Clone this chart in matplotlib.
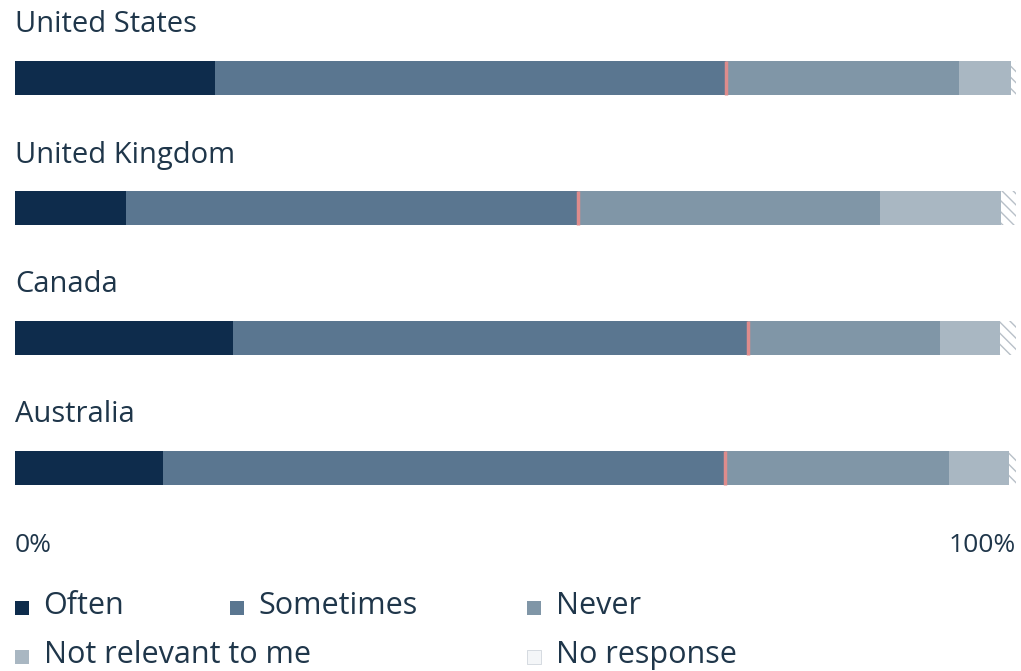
import matplotlib.pyplot as plt
import numpy as np

plt.rcParams['font.family'] = ['Open Sans', 'DejaVu Sans']

# Datos (porcentajes)
countries = ["United States", "United Kingdom", "Canada", "Australia"]
categories = ["Often", "Sometimes", "Never", "Not relevant to me", "No response"]
often = [20.0, 11.1, 21.8, 14.8]
sometimes = [51.0, 45.1, 51.4, 56.1]
never = [23.3, 30.2, 19.2, 22.4]
not_relevant = [5.2, 12.1, 6.0, 6.0]
no_response = [0.5, 1.5, 1.6, 0.7]

colors = ["#0e2c4c", "#5a7690", "#8096a7", "#a9b7c2", "#ffffff"]
text_color = "#1f364a"
marker_color = "#de8c8c"

W, H = 1021, 671
fig = plt.figure(figsize=(W / 100, H / 100), dpi=100)
ax = fig.add_axes([0, 0, 1, 1])

# escala: 0% -> 15 px, 100% -> 1016 px
x0, x1 = 15, 1016
scale = (x1 - x0) / 100
ax.set_xlim(-x0 / scale, (W - x0) / scale)
ax.set_ylim(H, 0)
ax.axis("off")

series = [often, sometimes, never, not_relevant, no_response]
y = 78 + 130 * np.arange(len(countries))
bar_h = 34

left = np.zeros(len(countries))
for name, vals, col in zip(categories, series, colors):
    vals = np.array(vals)
    if name == "No response":
        ax.barh(y, vals, left=left, height=bar_h, color=col,
                edgecolor="#b8c0c8", linewidth=0, hatch="\\\\\\")
    else:
        ax.barh(y, vals, left=left, height=bar_h, color=col, linewidth=0)
    left += vals

# marcador rojo en el total Often + Sometimes
marks = np.array(often) + np.array(sometimes)
ax.vlines(marks, y - bar_h / 2, y + bar_h / 2, color=marker_color, linewidth=2.5)

for yi, name in zip(y, countries):
    ax.text(0, yi - 53, name, fontsize=21, color=text_color, va="center", ha="left")

ax.text(0, 545, "0%", fontsize=19, color=text_color, va="center", ha="left")
ax.text(100, 545, "100%", fontsize=19, color=text_color, va="center", ha="right")

# leyenda manual
leg_pos = [(15, 606), (230, 606), (527, 606), (15, 655), (527, 655)]
for (px, py), name, col in zip(leg_pos, categories, colors):
    xs = (px - x0) / scale
    if name == "No response":
        ax.scatter([xs + 0.65], [py + 2], marker="s", s=110, facecolor="#f4f6f8",
                   edgecolor="#d0d6dc", linewidth=0.6)
    else:
        ax.scatter([xs + 0.65], [py + 2], marker="s", s=110, color=col, linewidth=0)
    ax.text(xs + 2.85, py, name, fontsize=22, color=text_color, va="center", ha="left")

fig.savefig("out.png", dpi=100)
